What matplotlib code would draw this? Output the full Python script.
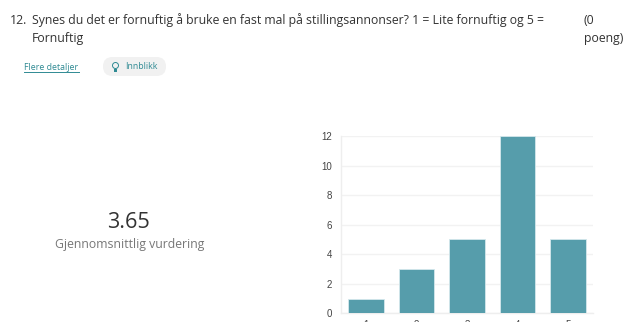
import matplotlib
matplotlib.use("Agg")
import matplotlib.pyplot as plt
from matplotlib.patches import FancyBboxPatch, Circle, Rectangle
from matplotlib.lines import Line2D

categories = [1, 2, 3, 4, 5]
counts = [1, 3, 5, 12, 5]
y_ticks = [0, 2, 4, 6, 8, 10, 12]
question_no = "12."
question_l1 = "Synes du det er fornuftig å bruke en fast mal på stillingsannonser? 1 = Lite fornuftig og 5 ="
question_l2 = "Fornuftig"
points_l1 = "(0"
points_l2 = "poeng)"
details = "Flere detaljer"
insight = "Innblikk"
average = "3.65"
average_label = "Gjennomsnittlig vurdering"

W, H = 624, 322
fig = plt.figure(figsize=(W / 100, H / 100), dpi=100, facecolor="white")

# pixel-coordinate overlay (origin top-left)
ov = fig.add_axes([0, 0, 1, 1], zorder=0)
ov.set_xlim(0, W)
ov.set_ylim(H, 0)
ov.axis("off")

FONT = "Open Sans"
DARK = "#333333"
TEAL = "#2f8a93"
QS = 8.8

ov.text(10, 20.5, question_no, family=FONT, fontsize=QS, color=DARK, va="center")
ov.text(32, 20.5, question_l1, family=FONT, fontsize=QS, color=DARK, va="center")
ov.text(32, 38, question_l2, family=FONT, fontsize=QS, color=DARK, va="center")
ov.text(584, 20.5, points_l1, family=FONT, fontsize=QS, color=DARK, va="center")
ov.text(584, 38, points_l2, family=FONT, fontsize=QS, color=DARK, va="center")

ov.text(24, 67.5, details, family=FONT, fontsize=6.3, color=TEAL, va="center")
ov.add_line(Line2D([24, 79], [72, 72], color=TEAL, lw=0.7))

ov.add_patch(FancyBboxPatch((103, 57), 63, 19, boxstyle="round,pad=0,rounding_size=9.5",
                            fc="#f1f1f1", ec="none"))
ov.add_patch(Circle((115.5, 65.5), 3.0, fc="none", ec=TEAL, lw=0.7))
ov.add_patch(Rectangle((114.3, 69), 2.4, 2.5, fc=TEAL, ec="none"))
ov.text(125, 66.5, insight, family=FONT, fontsize=6.3, color=TEAL, va="center")

ov.text(129, 222, average, family=FONT, fontsize=15.6, color="#333333", va="center", ha="center")
ov.text(129.5, 244.5, average_label, family=FONT, fontsize=8.8, color="#777777", va="center", ha="center")

# bar chart
ax = fig.add_axes([341 / W, (H - 313.3) / H, 252 / W, 177.3 / H], zorder=1)
ax.patch.set_alpha(0)
ax.bar(categories, counts, width=0.71, color="#569dab", edgecolor="#d5e8ec", linewidth=0.6, zorder=3)
ax.set_xlim(0.5, 5.5)
ax.set_ylim(0, 12)
ax.set_yticks(y_ticks)
ax.set_xticks(categories)
ax.yaxis.grid(True, color="#f2f2f2", lw=1)
ax.set_axisbelow(True)
for s in ("top", "right"):
    ax.spines[s].set_visible(False)
for s in ("left", "bottom"):
    ax.spines[s].set_color("#eeeeee")
    ax.spines[s].set_linewidth(1)
ax.spines["left"].set_bounds(0, 12)
ax.tick_params(axis="both", length=0, labelcolor="#444444")
ax.tick_params(axis="y", pad=6.5)
ax.tick_params(axis="x", pad=4.5)
for lab in ax.get_xticklabels() + ax.get_yticklabels():
    lab.set_family("Liberation Sans")
    lab.set_fontsize(7)

fig.savefig("out.png", dpi=100)
